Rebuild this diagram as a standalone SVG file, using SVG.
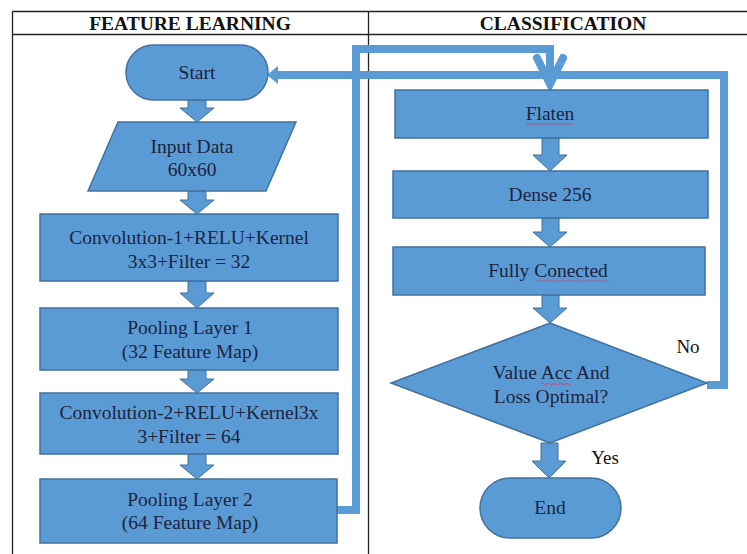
<svg xmlns="http://www.w3.org/2000/svg" width="747" height="554" viewBox="0 0 747 554">
<style>
.tbl{stroke:#222;stroke-width:1.3;fill:none}
.hdr{font-family:"Liberation Serif","Times New Roman",serif;font-weight:bold;font-size:19.5px;fill:#111;text-anchor:middle}
.node{fill:#5B9BD5;stroke:#41719C;stroke-width:1.5}
.txt{font-family:"Liberation Serif","Times New Roman",serif;font-size:19.5px;fill:#1b2440;text-anchor:middle}
.lbl{font-family:"Liberation Serif","Times New Roman",serif;font-size:19px;fill:#111;text-anchor:middle}
.blk{fill:#5B9BD5;stroke:#41719C;stroke-width:1}
.line{fill:none;stroke:#5B9BD5;stroke-width:8;stroke-linejoin:miter}
.wavy{fill:none;stroke:#d04070;stroke-width:0.9}
</style>
<rect width="747" height="554" fill="#fff"/>
<g id="table">
<path class="tbl" d="M12.5,11.5 H747 M12.5,34.5 H747 M12.5,11.5 V554 M368.5,11.5 V554"/>
<text class="hdr" x="190" y="30">FEATURE LEARNING</text>
<text class="hdr" x="563" y="30">CLASSIFICATION</text>
</g>
<g id="connectors">
<polygon class="blk" points="188,100 206,100 206,108 214,108 197,122 180,108 188,108"/>
<polygon class="blk" points="188,191 206,191 206,200 214,200 197,214 180,200 188,200"/>
<polygon class="blk" points="188,281 206,281 206,293 214,293 197,308 180,293 188,293"/>
<polygon class="blk" points="188,370 206,370 206,379 214,379 197,393 180,379 188,379"/>
<polygon class="blk" points="188,454 206,454 206,465 214,465 197,479 180,465 188,465"/>
<polygon class="blk" points="542,138 559,138 559,155 567,155 550,171 533,155 542,155"/>
<polygon class="blk" points="542,218 559,218 559,232 567,232 550,247 533,232 542,232"/>
<polygon class="blk" points="542,295 559,295 559,308 567,308 550,323 533,308 542,308"/>
<polygon class="blk" points="541,443 558,443 558,461 566,461 549,478 532,461 541,461"/>
<path class="line" d="M337,510 H356 V49 H550 V84"/>
<polyline class="line" points="537,58 550,84 563,58" stroke-linecap="round" stroke-linejoin="round"/>
<path class="line" d="M707,385 H724 V75 H276"/>
<polygon fill="#5B9BD5" points="267,75 278,66 278,84"/>
<text class="lbl" x="688" y="353">No</text>
<text class="lbl" x="605" y="464">Yes</text>
</g>
<g id="start">
<rect class="node" x="126" y="45" width="142" height="55" rx="27.5"/>
<text class="txt" x="197" y="79">Start</text>
</g>
<g id="input">
<polygon class="node" points="118,122 296,122 266,191 88,191"/>
<text class="txt" x="192" y="153">Input Data</text>
<text class="txt" x="192" y="176">60x60</text>
</g>
<g id="conv1">
<rect class="node" x="40" y="214" width="298" height="67"/>
<text class="txt" x="189" y="244">Convolution-1+RELU+Kernel</text>
<text class="txt" x="189" y="268">3x3+Filter = 32</text>
</g>
<g id="pool1">
<rect class="node" x="40" y="308" width="298" height="62"/>
<text class="txt" x="190" y="334">Pooling Layer 1</text>
<text class="txt" x="190" y="358">(32 Feature Map)</text>
</g>
<g id="conv2">
<rect class="node" x="40" y="393" width="298" height="61"/>
<text class="txt" x="189" y="419">Convolution-2+RELU+Kernel3x</text>
<text class="txt" x="189" y="443">3+Filter = 64</text>
</g>
<g id="pool2">
<rect class="node" x="40" y="479" width="297" height="64"/>
<text class="txt" x="190" y="506">Pooling Layer 2</text>
<text class="txt" x="190" y="529">(64 Feature Map)</text>
</g>
<g id="flaten">
<rect class="node" x="395" y="90" width="313" height="48"/>
<text class="txt" x="550" y="120">Flaten</text>
<path class="wavy" d="M526,124 q1.5,-1.5 3,0 t3,0 t3,0 t3,0 t3,0 t3,0 t3,0 t3,0 t3,0 t3,0 t3,0 t3,0 t3,0 t3,0 t3,0 t3,0"/>
</g>
<g id="dense">
<rect class="node" x="393" y="171" width="315" height="47"/>
<text class="txt" x="550" y="201">Dense 256</text>
</g>
<g id="fc">
<rect class="node" x="393" y="247" width="312" height="48"/>
<text class="txt" x="548" y="277">Fully Conected</text>
<path class="wavy" d="M537,281 q1.5,-1.5 3,0 t3,0 t3,0 t3,0 t3,0 t3,0 t3,0 t3,0 t3,0 t3,0 t3,0 t3,0 t3,0 t3,0 t3,0 t3,0 t3,0 t3,0 t3,0 t3,0 t3,0 t3,0 t3,0 t3,0"/>
</g>
<g id="decision">
<polygon class="node" points="550,323 707,383 550,443 391,383"/>
<text class="txt" x="551" y="379">Value Acc And</text>
<text class="txt" x="551" y="403">Loss Optimal?</text>
<path class="wavy" d="M541,384 q1.5,-1.5 3,0 t3,0 t3,0 t3,0 t3,0 t3,0 t3,0 t3,0 t3,0 t3,0"/>
</g>
<g id="end">
<rect class="node" x="480" y="478" width="141" height="60" rx="30"/>
<text class="txt" x="550" y="514">End</text>
</g>
</svg>
